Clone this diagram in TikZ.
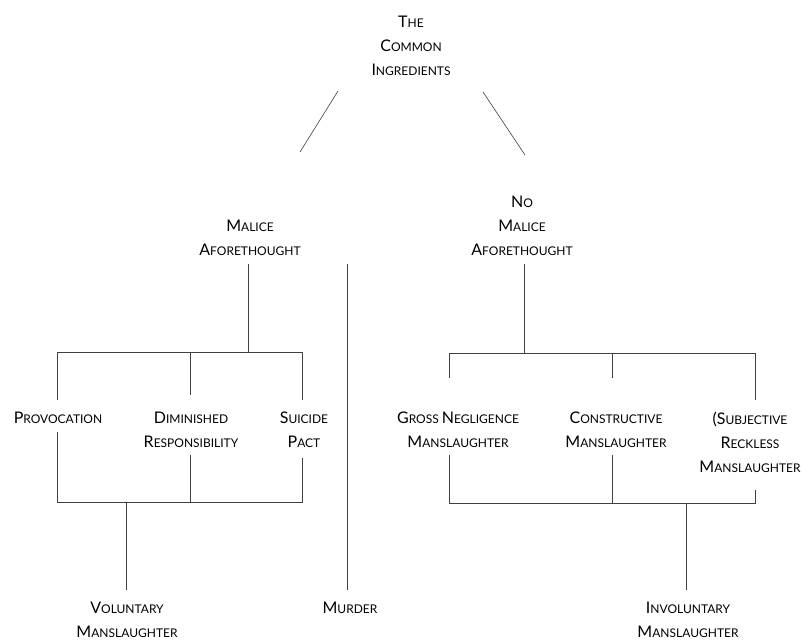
\documentclass[tikz,border=0pt]{standalone}
\usepackage{fontspec}
\setmainfont{Lato}
\newcommand\scw[2]{{\fontsize{16}{24}\selectfont #1}{\fontsize{12}{24}\selectfont #2}}
\tikzset{
  lbl/.style={align=center, inner sep=0pt, font=\fontsize{12}{24}\selectfont, text=black},
  conn/.style={draw=black!75, line width=0.6pt}
}
\begin{document}
\begin{tikzpicture}[x=1pt,y=-1pt]
\useasboundingbox (0,0) rectangle (804,640);
% nodes
\node[lbl] (top) at (411,46) {\scw{T}{HE}\\\scw{C}{OMMON}\\\scw{I}{NGREDIENTS}};
\node[lbl] (mal) at (250,238) {\scw{M}{ALICE}\\\scw{A}{FORETHOUGHT}};
\node[lbl] (nomal) at (522,226) {\scw{N}{O}\\\scw{M}{ALICE}\\\scw{A}{FORETHOUGHT}};
\node[lbl] (prov) at (58,418) {\scw{P}{ROVOCATION}};
\node[lbl] (dim) at (191,430) {\scw{D}{IMINISHED}\\\scw{R}{ESPONSIBILITY}};
\node[lbl] (sui) at (304,430) {\scw{S}{UICIDE}\\\scw{P}{ACT}};
\node[lbl] (gross) at (458,430) {\scw{G}{ROSS} \scw{N}{EGLIGENCE}\\\scw{M}{ANSLAUGHTER}};
\node[lbl] (cons) at (616,430) {\scw{C}{ONSTRUCTIVE}\\\scw{M}{ANSLAUGHTER}};
\node[lbl] (subj) at (750,442) {\scw{(S}{UBJECTIVE}\\\scw{R}{ECKLESS}\\\scw{M}{ANSLAUGHTER}};
\node[lbl] (vol) at (127,620) {\scw{V}{OLUNTARY}\\\scw{M}{ANSLAUGHTER}};
\node[lbl] (mur) at (350,608) {\scw{M}{URDER}};
\node[lbl] (invol) at (688,620) {\scw{I}{NVOLUNTARY}\\\scw{M}{ANSLAUGHTER}};
% coordinates
\coordinate (t1) at (338,91); \coordinate (m1) at (300,152);
\coordinate (t2) at (483,92); \coordinate (n1) at (525,155);
\coordinate (ma) at (248,264); \coordinate (mb) at (248,352);
\coordinate (bl1) at (57,352); \coordinate (bl2) at (190,352); \coordinate (bl3) at (302,352);
\coordinate (pa) at (57,400); \coordinate (da) at (190,395); \coordinate (sa) at (302,400);
\coordinate (pb) at (57,432); \coordinate (db) at (190,455); \coordinate (sb) at (302,458);
\coordinate (cl1) at (57,502); \coordinate (cl2) at (190,502); \coordinate (cl3) at (302,502);
\coordinate (va) at (126,502); \coordinate (vb) at (126,590);
\coordinate (mua) at (347,264); \coordinate (mub) at (347,590);
\coordinate (na) at (524,264); \coordinate (nb) at (524,353);
\coordinate (br1) at (449,353); \coordinate (br2) at (612,353); \coordinate (br3) at (755,353);
\coordinate (ga) at (449,378); \coordinate (ca) at (612,378); \coordinate (sja) at (755,400);
\coordinate (gb) at (449,455); \coordinate (cb) at (612,455); \coordinate (sjb) at (755,490);
\coordinate (cr1) at (449,503); \coordinate (cr2) at (612,503); \coordinate (cr3) at (755,503);
\coordinate (ia) at (686,503); \coordinate (ib) at (686,590);
% connectors
\draw[conn] (t1) -- (m1);
\draw[conn] (t2) -- (n1);
\draw[conn] (ma) -- (mb);
\draw[conn] (pa) -- (bl1) -- (bl3) -- (sa);
\draw[conn] (bl2) -- (da);
\draw[conn] (pb) -- (cl1) -- (cl3) -- (sb);
\draw[conn] (db) -- (cl2);
\draw[conn] (va) -- (vb);
\draw[conn] (mua) -- (mub);
\draw[conn] (na) -- (nb);
\draw[conn] (ga) -- (br1) -- (br3) -- (sja);
\draw[conn] (br2) -- (ca);
\draw[conn] (gb) -- (cr1) -- (cr3) -- (sjb);
\draw[conn] (cb) -- (cr2);
\draw[conn] (ia) -- (ib);
\end{tikzpicture}
\end{document}
